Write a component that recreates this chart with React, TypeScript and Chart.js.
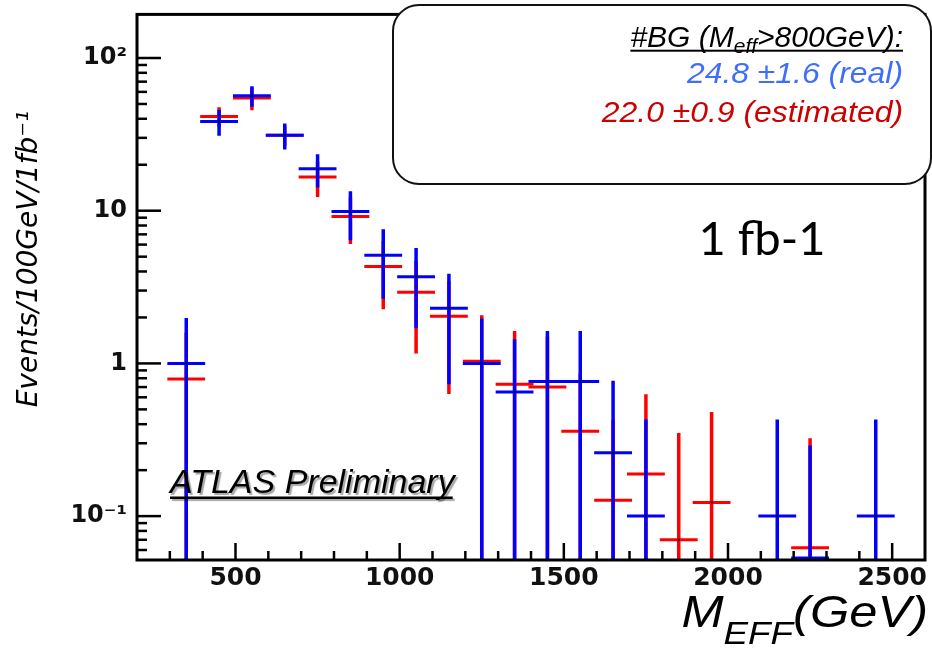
import React, { useEffect, useRef } from 'react';
import { Chart, registerables } from 'chart.js';

Chart.register(...registerables);

// ---- data (bins of 100 GeV, value at bin centre) ----
const binCenters = [350, 450, 550, 650, 750, 850, 950, 1050, 1150, 1250, 1350, 1450, 1550, 1650, 1750, 1850, 1950, 2050, 2150, 2250, 2350, 2450];
const realValues: (number | null)[] = [1.0, 38.4, 56.7, 31.2, 18.8, 9.9, 5.1, 3.7, 2.3, 1.0, 0.65, 0.76, 0.76, 0.26, 0.10, null, null, null, 0.10, 0.01, null, 0.10];
const realErrors: (number | null)[] = [0.98, 7.4, 8.7, 6.0, 4.6, 3.5, 2.45, 2.0, 1.57, 0.97, 0.79, 0.87, 0.87, 0.51, 0.33, null, null, null, 0.33, 0.28, null, 0.33];
const estValues: (number | null)[] = [0.79, 41.4, 54.7, 31.2, 16.6, 9.16, 4.31, 2.92, 2.04, 1.035, 0.73, 0.70, 0.36, 0.127, 0.189, 0.070, 0.123, null, null, 0.062, null, null];
const estErrors: (number | null)[] = [0.8, 6.2, 9.2, 4.5, 4.3, 3.1, 2.05, 1.76, 1.41, 1.03, 0.9, 0.8, 0.5, 0.3, 0.44, 0.28, 0.357, null, null, 0.262, null, null];

const xTickValues = [500, 1000, 1500, 2000, 2500];
const yTickValues = [0.1, 1, 10, 100];
const yTickLabels = ['10\u207B\u00B9', '1', '10', '10\u00B2'];

const legendTitle = ['#BG (M', 'eff', '>800GeV):'];
const legendReal = '24.8 \u00B11.6 (real)';
const legendEst = '22.0 \u00B10.9 (estimated)';
const lumiText = '1 fb-1';
const atlasText = 'ATLAS Preliminary';
const yTitle = 'Events/100GeV/1fb\u207B\u00B9';
const xTitle = ['M', 'EFF', '(GeV)'];

const BLUE = '#0000ff';
const RED = '#ff0000';
const BIN_HALF = 50;

function toPoints(vals: (number | null)[], errs: (number | null)[]) {
  const pts: any[] = [];
  binCenters.forEach((c, i) => {
    const v = vals[i];
    if (v != null) pts.push({ x: c, y: v, e: errs[i] ?? 0 });
  });
  return pts;
}

const rootPlugin = {
  id: 'rootStyle',
  afterDatasetsDraw(chart: any) {
    const { ctx, chartArea: ca } = chart;
    const xs = chart.scales.x;
    const ys = chart.scales.y;
    ctx.save();
    ctx.beginPath();
    ctx.rect(ca.left, ca.top, ca.right - ca.left, ca.bottom - ca.top);
    ctx.clip();
    chart.data.datasets.forEach((ds: any) => {
      const color = ds.borderColor;
      ds.data.forEach((p: any) => {
        const px = xs.getPixelForValue(p.x);
        const py = p.y > ys.min ? ys.getPixelForValue(p.y) : ca.bottom - 2;
        const hi = p.y + p.e;
        const lo = p.y - p.e;
        const pTop = ys.getPixelForValue(Math.min(hi, ys.max));
        const pBot = lo > ys.min ? ys.getPixelForValue(lo) : ca.bottom;
        const x0 = xs.getPixelForValue(p.x - BIN_HALF) - 2.5;
        const x1 = xs.getPixelForValue(p.x + BIN_HALF) + 2.5;
        ctx.strokeStyle = color;
        ctx.lineCap = 'butt';
        ctx.lineWidth = 3.5;
        ctx.beginPath();
        ctx.moveTo(px, pTop);
        ctx.lineTo(px, pBot);
        ctx.stroke();
        ctx.lineWidth = 3;
        ctx.beginPath();
        ctx.moveTo(x0, py);
        ctx.lineTo(x1, py);
        ctx.stroke();
        ctx.fillStyle = '#000';
        ctx.fillRect(px - 1, py - 1, 2, 2);
      });
    });
    ctx.restore();
  },
  afterDraw(chart: any) {
    const { ctx, chartArea: ca } = chart;
    const xs = chart.scales.x;
    const ys = chart.scales.y;
    ctx.save();
    // frame
    ctx.strokeStyle = '#000';
    ctx.lineWidth = 3;
    ctx.strokeRect(ca.left, ca.top, ca.right - ca.left, ca.bottom - ca.top);
    // x ticks
    ctx.lineWidth = 2.5;
    for (let v = 300; v <= 2500; v += 100) {
      const px = xs.getPixelForValue(v);
      const len = v % 500 === 0 ? 17 : 9;
      ctx.beginPath();
      ctx.moveTo(px, ca.bottom);
      ctx.lineTo(px, ca.bottom - len);
      ctx.stroke();
    }
    // y ticks
    for (let ex = -2; ex <= 2; ex++) {
      for (let k = 1; k <= 9; k++) {
        const v = k * Math.pow(10, ex);
        if (v < ys.min || v > ys.max) continue;
        const py = ys.getPixelForValue(v);
        const len = k === 1 ? 24 : 10;
        ctx.beginPath();
        ctx.moveTo(ca.left, py);
        ctx.lineTo(ca.left + len, py);
        ctx.stroke();
      }
    }

    // legend box
    const bx0 = 393, by0 = 5, bx1 = 931, by1 = 184, r = 26;
    ctx.beginPath();
    ctx.moveTo(bx0 + r, by0);
    ctx.lineTo(bx1 - r, by0);
    ctx.arcTo(bx1, by0, bx1, by0 + r, r);
    ctx.lineTo(bx1, by1 - r);
    ctx.arcTo(bx1, by1, bx1 - r, by1, r);
    ctx.lineTo(bx0 + r, by1);
    ctx.arcTo(bx0, by1, bx0, by1 - r, r);
    ctx.lineTo(bx0, by0 + r);
    ctx.arcTo(bx0, by0, bx0 + r, by0, r);
    ctx.closePath();
    ctx.fillStyle = '#fff';
    ctx.fill();
    ctx.lineWidth = 2;
    ctx.strokeStyle = '#111';
    ctx.stroke();

    // legend line 1
    const fBig = 'italic 30px "Liberation Sans", Arial, sans-serif';
    const fSub = 'italic 21px "Liberation Sans", Arial, sans-serif';
    ctx.font = fBig;
    const w1 = ctx.measureText(legendTitle[0]).width;
    const w3 = ctx.measureText(legendTitle[2]).width;
    ctx.font = fSub;
    const w2 = ctx.measureText(legendTitle[1]).width;
    const right = 903;
    const base1 = 46.7;
    const start = right - (w1 + w2 + w3);
    ctx.fillStyle = '#000';
    ctx.textAlign = 'left';
    ctx.textBaseline = 'alphabetic';
    ctx.font = fBig;
    ctx.fillText(legendTitle[0], start, base1);
    ctx.font = fSub;
    ctx.fillText(legendTitle[1], start + w1, base1 + 6.6);
    ctx.font = fBig;
    ctx.fillText(legendTitle[2], start + w1 + w2, base1);
    ctx.fillRect(start, base1 + 3, w1 + w2 + w3, 2);

    // legend lines 2,3
    const fLeg = 'italic 29px "Liberation Sans", Arial, sans-serif';
    ctx.font = fLeg;
    ctx.textAlign = 'right';
    ctx.save();
    ctx.translate(right, 83.3);
    ctx.scale(1.1, 1);
    ctx.fillStyle = '#3f6ffa';
    ctx.fillText(legendReal, 0, 0);
    ctx.restore();
    ctx.save();
    ctx.translate(right, 121.7);
    ctx.scale(1.1, 1);
    ctx.fillStyle = '#cc0000';
    ctx.fillText(legendEst, 0, 0);
    ctx.restore();

    // 1 fb-1
    ctx.fillStyle = '#000';
    ctx.textAlign = 'center';
    ctx.font = '47px Lato, "DejaVu Sans", sans-serif';
    ctx.fillText(lumiText, 762, 255);

    // ATLAS Preliminary
    ctx.save();
    ctx.textAlign = 'left';
    ctx.font = 'italic 34px "Liberation Sans", Arial, sans-serif';
    ctx.shadowColor = 'rgba(0,0,0,0.35)';
    ctx.shadowOffsetX = 2;
    ctx.shadowOffsetY = 2;
    ctx.shadowBlur = 1;
    ctx.fillStyle = '#000';
    ctx.fillText(atlasText, 170, 493);
    const aw = ctx.measureText(atlasText).width;
    ctx.fillRect(170, 496.5, aw - 2, 2.5);
    ctx.restore();

    // y title
    ctx.save();
    ctx.translate(37, 259);
    ctx.rotate(-Math.PI / 2);
    ctx.textAlign = 'center';
    ctx.font = 'italic 28px "DejaVu Sans", sans-serif';
    ctx.fillStyle = '#000';
    ctx.fillText(yTitle, 0, 0);
    ctx.restore();

    // x title
    const sx = 1.15;
    const fX = 'italic 44px "Liberation Sans", Arial, sans-serif';
    const fXs = 'italic 32px "Liberation Sans", Arial, sans-serif';
    ctx.font = fX;
    const wM = ctx.measureText(xTitle[0]).width;
    const wG = ctx.measureText(xTitle[2]).width;
    ctx.font = fXs;
    const wE = ctx.measureText(xTitle[1]).width;
    const tot = (wM + wE + wG) * sx;
    ctx.save();
    ctx.translate(928 - tot, 626.5);
    ctx.scale(sx, 1);
    ctx.textAlign = 'left';
    ctx.fillStyle = '#000';
    ctx.font = fX;
    ctx.fillText(xTitle[0], 0, 0);
    ctx.font = fXs;
    ctx.fillText(xTitle[1], wM, 17);
    ctx.font = fX;
    ctx.fillText(xTitle[2], wM + wE, 0);
    ctx.restore();

    ctx.restore();
  },
};

export default function App() {
  const ref = useRef<HTMLCanvasElement>(null);
  useEffect(() => {
    const tickFont = { family: '"DejaVu Sans", sans-serif', weight: 'bold' as const, size: 25 };
    const chart = new Chart(ref.current as HTMLCanvasElement, {
      type: 'scatter',
      data: {
        datasets: [
          { label: 'estimated', data: toPoints(estValues, estErrors), borderColor: RED, backgroundColor: RED, pointRadius: 0, showLine: false },
          { label: 'real', data: toPoints(realValues, realErrors), borderColor: BLUE, backgroundColor: BLUE, pointRadius: 0, showLine: false },
        ],
      },
      options: {
        responsive: false,
        animation: false,
        devicePixelRatio: 1,
        layout: { padding: { left: 0, top: 14, right: 7, bottom: 0 } },
        events: [],
        plugins: { legend: { display: false }, tooltip: { enabled: false }, title: { display: false } },
        scales: {
          x: {
            type: 'linear',
            position: 'bottom',
            min: 200,
            max: 2600,
            grid: { display: false, drawTicks: false },
            border: { display: false },
            afterBuildTicks: (s: any) => { s.ticks = xTickValues.map((v) => ({ value: v })); },
            afterFit: (s: any) => { s.height = 89; },
            ticks: { autoSkip: false, maxRotation: 0, padding: 3, color: '#111', font: tickFont, callback: (v: any) => String(v) },
          },
          y: {
            type: 'logarithmic',
            position: 'left',
            min: 0.0516,
            max: 193,
            grid: { display: false, drawTicks: true, tickLength: 10 },
            border: { display: false },
            afterBuildTicks: (s: any) => { s.ticks = yTickValues.map((v) => ({ value: v })); },
            afterFit: (s: any) => { s.width = 137; },
            ticks: {
              autoSkip: false,
              padding: 0,
              color: '#111',
              font: { family: '"DejaVu Sans", sans-serif', weight: 'bold' as const, size: 24 },
              callback: (v: any) => {
                const i = yTickValues.findIndex((t) => Math.abs(t - Number(v)) / t < 1e-6);
                return i >= 0 ? yTickLabels[i] : '';
              },
            },
          },
        },
      },
      plugins: [rootPlugin],
    } as any);
    return () => chart.destroy();
  }, []);
  return (
    <div style={{ position: 'absolute', left: 0, top: 0, width: 932, height: 649, background: '#fff' }}>
      <canvas ref={ref} width={932} height={649} style={{ display: 'block' }} />
    </div>
  );
}
